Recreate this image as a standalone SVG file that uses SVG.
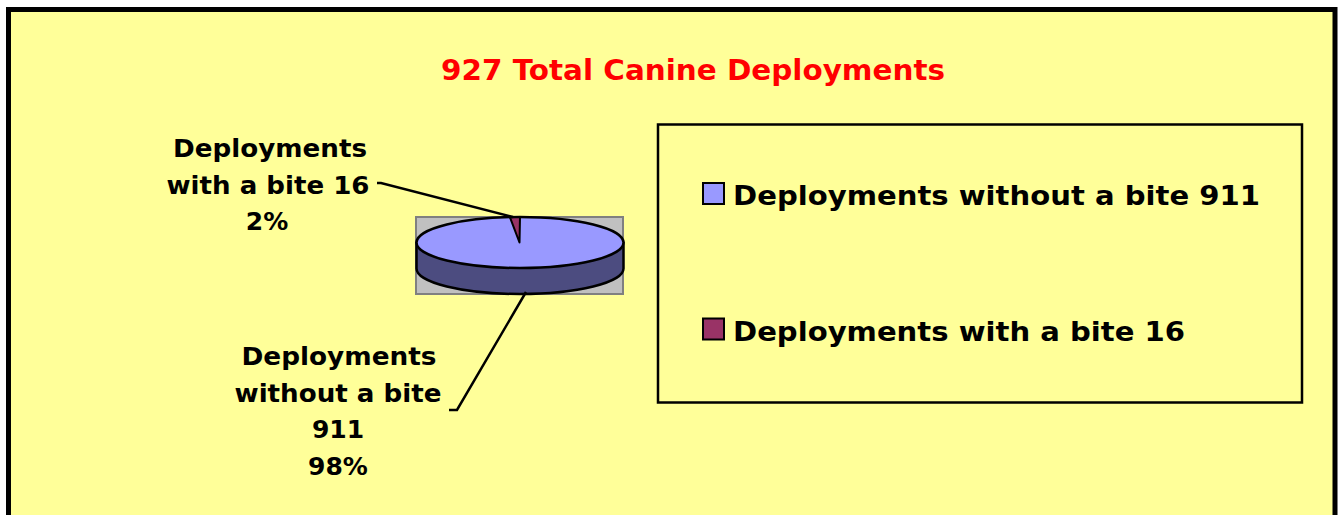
<svg xmlns="http://www.w3.org/2000/svg" width="1342" height="515" viewBox="0 0 1342 515">
<style>
text{font-family:"DejaVu Sans","Liberation Sans",sans-serif;font-weight:bold;fill:#000}
.title{fill:#FF0000;font-size:28px}
.lbl{font-size:25px}
.leg{font-size:27px}
.ln{fill:none;stroke:#000;stroke-width:2.5}
</style>
<rect x="0" y="0" width="1342" height="515" fill="#FFFFFF"/>
<rect id="chartArea" x="8.5" y="9.5" width="1326.5" height="520" fill="#FFFF99" stroke="#000" stroke-width="5"/>
<g id="title"><text class="title" x="693" y="80" text-anchor="middle" textLength="504" lengthAdjust="spacingAndGlyphs">927 Total Canine Deployments</text></g>
<g id="plotArea"><rect x="416" y="217" width="207" height="77" fill="#C0C0C0" stroke="#808080" stroke-width="2"/></g>
<g id="pie">
<path d="M416.5,242.5 L416.5,268.5 A103.5,25.5 0 0 0 623.5,268.5 L623.5,242.5 Z" fill="#4C4C80" stroke="#000" stroke-width="2.5" stroke-linejoin="round"/>
<ellipse cx="520" cy="242.5" rx="103.5" ry="25.5" fill="#9999FF" stroke="#000" stroke-width="2.5"/>
<path d="M519.5,242.5 L510,217.4 A103.5,25.5 0 0 1 520,217 Z" fill="#993366" stroke="#000" stroke-width="2" stroke-linejoin="round"/>
</g>
<g id="connectors">
<polyline class="ln" points="377,183 381,183 513,217"/>
<polyline class="ln" points="449,410 457,410 526,292"/>
</g>
<g id="label-bite">
<text class="lbl" x="270" y="157" text-anchor="middle" textLength="194" lengthAdjust="spacingAndGlyphs">Deployments</text>
<text class="lbl" x="268" y="194" text-anchor="middle" textLength="203" lengthAdjust="spacingAndGlyphs">with a bite 16</text>
<text class="lbl" x="267" y="230" text-anchor="middle">2%</text>
</g>
<g id="label-nobite">
<text class="lbl" x="339" y="365" text-anchor="middle" textLength="195" lengthAdjust="spacingAndGlyphs">Deployments</text>
<text class="lbl" x="338" y="402" text-anchor="middle" textLength="207" lengthAdjust="spacingAndGlyphs">without a bite</text>
<text class="lbl" x="338" y="438" text-anchor="middle">911</text>
<text class="lbl" x="338" y="475" text-anchor="middle">98%</text>
</g>
<g id="legend">
<rect x="658" y="124.5" width="644" height="278" fill="#FFFF99" stroke="#000" stroke-width="2.5"/>
<rect x="703" y="183" width="21" height="21" fill="#9999FF" stroke="#000" stroke-width="2"/>
<text class="leg" x="733" y="205" textLength="527" lengthAdjust="spacingAndGlyphs">Deployments without a bite 911</text>
<rect x="703" y="318.5" width="21" height="21" fill="#993366" stroke="#000" stroke-width="2"/>
<text class="leg" x="733" y="341" textLength="452" lengthAdjust="spacingAndGlyphs">Deployments with a bite 16</text>
</g>
</svg>
